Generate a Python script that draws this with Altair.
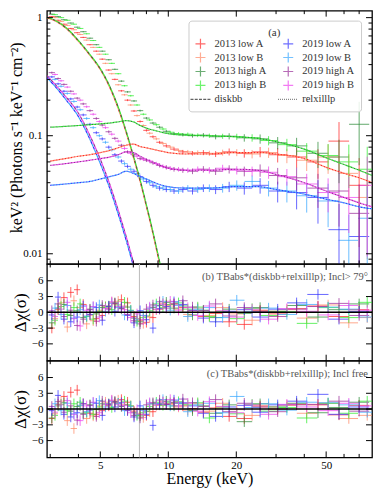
import altair as alt
import pandas as pd

FONT = "Liberation Serif"

# ---------------- data ----------------
DATASETS = ["2013 low A", "2013 low B", "2013 high A", "2013 high B",
            "2019 low A", "2019 low B", "2019 high A", "2019 high B"]
GROUPS = ["2013 low", "2013 high", "2019 low", "2019 high"]

# energy bin centres (keV) of the two detectors
E_A = [3.05, 3.25, 3.45, 3.7, 3.95, 4.2, 4.5, 4.8, 5.1, 5.45, 5.8, 6.2, 6.6, 7.05, 7.5, 8.0,
       8.55, 9.15, 9.8, 10.6, 11.6, 12.8, 14.3, 16.2, 18.6, 21.7, 25.5, 30.5, 37, 46, 57, 70]
E_B = [3.15, 3.35, 3.57, 3.82, 4.07, 4.35, 4.65, 4.95, 5.27, 5.62, 6.0, 6.4, 6.82, 7.27, 7.75, 8.27,
       8.85, 9.47, 10.2, 11.1, 12.2, 13.5, 15.2, 17.4, 20.1, 23.5, 27.8, 33.5, 41, 51, 63, 76]

# unfolded spectra, keV^2 (photons s^-1 keV^-1 cm^-2)
FLUX = {
    "2013 low A": [1.02, 0.95, 0.88, 0.81, 0.745, 0.68, 0.59, 0.52, 0.445, 0.36, 0.30, 0.24, 0.20, 0.162, 0.132, 0.111,
                   0.098, 0.088, 0.082, 0.077, 0.073, 0.071, 0.072, 0.070, 0.073, 0.071, 0.073, 0.069, 0.066, 0.060, 0.090, 0.038],
    "2013 low B": [1.00, 0.93, 0.86, 0.79, 0.72, 0.645, 0.56, 0.49, 0.41, 0.335, 0.27, 0.222, 0.182, 0.148, 0.122, 0.105,
                   0.094, 0.086, 0.080, 0.075, 0.073, 0.072, 0.071, 0.072, 0.072, 0.070, 0.072, 0.068, 0.062, 0.066, 0.048, 0.030],
    "2013 high A": [1.07, 1.02, 0.96, 0.90, 0.83, 0.76, 0.67, 0.59, 0.52, 0.44, 0.365, 0.29, 0.235, 0.197, 0.163, 0.141,
                    0.128, 0.118, 0.109, 0.104, 0.102, 0.100, 0.101, 0.098, 0.099, 0.096, 0.094, 0.087, 0.082, 0.071, 0.066, 0.125],
    "2013 high B": [1.06, 1.00, 0.95, 0.88, 0.81, 0.73, 0.64, 0.56, 0.49, 0.41, 0.335, 0.265, 0.218, 0.182, 0.152, 0.136,
                    0.124, 0.114, 0.107, 0.104, 0.103, 0.101, 0.100, 0.099, 0.098, 0.096, 0.091, 0.084, 0.074, 0.068, 0.060, 0.052],
    "2019 low A": [0.315, 0.275, 0.238, 0.205, 0.175, 0.150, 0.125, 0.106, 0.094, 0.080, 0.069, 0.061, 0.055, 0.050, 0.045, 0.041,
                   0.038, 0.036, 0.035, 0.034, 0.035, 0.034, 0.036, 0.035, 0.037, 0.036, 0.038, 0.034, 0.033, 0.030, 0.016, 0.014],
    "2019 low B": [0.30, 0.262, 0.228, 0.195, 0.166, 0.140, 0.117, 0.100, 0.088, 0.076, 0.066, 0.058, 0.052, 0.048, 0.043, 0.040,
                   0.037, 0.036, 0.035, 0.034, 0.036, 0.035, 0.036, 0.036, 0.038, 0.041, 0.036, 0.034, 0.031, 0.028, 0.013, 0.020],
    "2019 high A": [0.342, 0.305, 0.272, 0.238, 0.208, 0.186, 0.163, 0.140, 0.123, 0.108, 0.095, 0.083, 0.073, 0.069, 0.064, 0.062,
                    0.059, 0.056, 0.054, 0.052, 0.051, 0.050, 0.052, 0.050, 0.052, 0.050, 0.051, 0.046, 0.044, 0.036, 0.034, 0.022],
    "2019 high B": [0.33, 0.292, 0.258, 0.226, 0.200, 0.176, 0.152, 0.132, 0.117, 0.103, 0.090, 0.078, 0.071, 0.067, 0.063, 0.061,
                    0.058, 0.055, 0.053, 0.052, 0.051, 0.052, 0.051, 0.053, 0.051, 0.050, 0.049, 0.045, 0.039, 0.033, 0.030, 0.038],
}

# fractional 1-sigma flux errors per bin
REL_ERR = {
    "2013 high": [0.010, 0.010, 0.010, 0.010, 0.010, 0.011, 0.011, 0.012, 0.012, 0.013, 0.014, 0.015, 0.016, 0.017, 0.019, 0.021,
                  0.023, 0.025, 0.027, 0.030, 0.033, 0.037, 0.043, 0.050, 0.060, 0.072, 0.090, 0.12, 0.17, 0.25, 0.40, 0.55],
    "2013 low": [0.011, 0.011, 0.011, 0.011, 0.012, 0.012, 0.012, 0.013, 0.014, 0.015, 0.016, 0.017, 0.019, 0.020, 0.022, 0.024,
                 0.026, 0.028, 0.031, 0.034, 0.038, 0.043, 0.050, 0.058, 0.068, 0.082, 0.10, 0.14, 0.19, 0.28, 0.45, 0.70],
    "2019 high": [0.020, 0.020, 0.020, 0.021, 0.022, 0.023, 0.024, 0.025, 0.026, 0.027, 0.028, 0.029, 0.030, 0.031, 0.033, 0.035,
                  0.037, 0.039, 0.042, 0.045, 0.050, 0.055, 0.062, 0.070, 0.080, 0.095, 0.12, 0.16, 0.22, 0.32, 0.50, 0.75],
    "2019 low": [0.022, 0.022, 0.023, 0.024, 0.025, 0.026, 0.028, 0.029, 0.030, 0.032, 0.033, 0.035, 0.036, 0.038, 0.040, 0.042,
                 0.045, 0.048, 0.050, 0.055, 0.060, 0.066, 0.074, 0.085, 0.10, 0.12, 0.15, 0.20, 0.28, 0.40, 0.65, 0.85],
}

# model components
E_DISK = [2.9, 3.0, 3.5, 4.0, 4.5, 5.0, 5.5, 6.0, 6.5, 7.0, 7.5, 8.0, 8.5, 9.0, 9.5, 10.0]
DISKBB = {
    "2013 low": [0.995, 0.975, 0.822, 0.631, 0.479, 0.363, 0.257, 0.170, 0.107, 0.066, 0.041, 0.0251, 0.0155, 0.0095, 0.0059, 0.0036],
    "2013 high": [1.00, 0.985, 0.832, 0.640, 0.487, 0.370, 0.263, 0.175, 0.110, 0.068, 0.0425, 0.026, 0.0161, 0.0099, 0.0062, 0.0038],
    "2019 low": [0.31, 0.29, 0.205, 0.145, 0.093, 0.058, 0.036, 0.0217, 0.0131, 0.0079, 0.0048, 0.0029, 0.0018, 0.0011, 0.0007, 0.0004],
    "2019 high": [0.324, 0.302, 0.216, 0.155, 0.100, 0.063, 0.039, 0.0234, 0.0141, 0.0085, 0.0051, 0.0031, 0.0019, 0.0011, 0.0007, 0.0004],
}
E_REL = [3.0, 3.5, 4.0, 4.5, 5.0, 5.5, 6.0, 6.5, 7.0, 7.5, 8.0, 9.0, 10, 12, 15, 20, 25, 30, 40, 50, 60, 70, 80]
RELXILLLP = {
    "2013 low": [0.061, 0.064, 0.067, 0.069, 0.072, 0.075, 0.079, 0.083, 0.085, 0.081, 0.079, 0.075, 0.072, 0.070, 0.070, 0.072,
                 0.072, 0.070, 0.064, 0.054, 0.048, 0.044, 0.040],
    "2013 high": [0.118, 0.120, 0.122, 0.124, 0.126, 0.128, 0.131, 0.134, 0.131, 0.122, 0.116, 0.109, 0.104, 0.101, 0.100, 0.098,
                  0.095, 0.089, 0.077, 0.065, 0.057, 0.051, 0.046],
    "2019 low": [0.038, 0.039, 0.040, 0.041, 0.043, 0.045, 0.047, 0.050, 0.048, 0.045, 0.043, 0.039, 0.037, 0.036, 0.036, 0.037,
                 0.037, 0.035, 0.032, 0.029, 0.027, 0.025, 0.024],
    "2019 high": [0.056, 0.058, 0.060, 0.062, 0.064, 0.066, 0.069, 0.073, 0.072, 0.067, 0.063, 0.057, 0.053, 0.051, 0.051, 0.052,
                  0.051, 0.047, 0.040, 0.034, 0.030, 0.027, 0.025],
}

# residuals (sigma), panel (b): inclination > 79 deg
RESID_B = {
    "2013 low A": [-3.0, 0.5, 2.8, 3.8, 4.3, 1.5, -0.5, -1.2, -0.6, 0.8, 1.6, 2.4, 1.8, -0.8, -1.5, -1.9,
                   -1.0, 0.6, 1.4, 1.6, 0.9, 0.3, -0.8, -0.2, -1.8, -2.3, 0.4, -0.3, 0.7, 1.2, -0.8, 0.5],
    "2013 low B": [-1.2, 1.8, -2.8, 2.2, 0.9, -2.2, -1.6, 0.4, 1.1, 1.9, 2.1, 1.2, 0.3, -1.2, -2.1, -0.9,
                   0.5, 1.7, 1.2, 0.6, -0.4, 0.8, -0.6, 0.9, -0.3, -1.5, 0.2, 0.5, -1.1, 1.4, -2.0, -1.0],
    "2013 high A": [-2.0, 0.8, 1.5, -0.6, 0.3, -1.0, 0.6, -0.3, 0.9, 1.2, 1.8, 0.7, 1.0, -1.1, -1.8, -0.7,
                    0.9, 1.3, 1.9, 0.8, 1.2, -0.5, 0.4, -1.0, 0.6, -0.2, 0.9, 0.2, 1.3, -0.9, 0.5, 1.6],
    "2013 high B": [-1.5, 1.1, -0.4, 0.9, 1.6, -0.8, -1.3, 0.2, 1.0, 0.5, 1.4, 1.9, 0.4, -1.7, -1.0, 0.3,
                    1.6, 0.9, 1.5, 1.8, 0.6, 1.0, -0.8, 0.2, -1.2, 0.7, -0.6, 0.1, -2.1, 0.9, -1.0, 1.9],
    "2019 low A": [-0.5, 2.9, -1.3, -1.8, -0.9, 1.2, -0.4, 0.9, -1.5, 1.1, 0.2, 1.0, -0.6, -2.0, 0.3, -1.4,
                   -3.0, 0.7, 1.1, 2.0, 1.5, 0.4, -1.1, -1.8, 0.2, 0.5, -0.9, 0.6, 1.8, 3.4, -1.3, 0.2],
    "2019 low B": [0.8, -0.4, 1.3, -1.1, 0.5, -0.7, 1.0, 1.4, 0.2, 1.7, 0.9, -0.5, 0.3, -1.3, -0.6, 0.8,
                   1.2, 2.1, 0.4, 1.3, -0.8, 0.6, 0.9, -1.0, 2.3, 0.1, 0.8, -0.4, 1.5, 1.0, 0.6, -0.9],
    "2019 high A": [0.3, 1.6, -0.8, 0.4, -2.5, -1.3, 0.5, -1.7, 1.3, 0.6, 1.7, 0.8, -0.4, -1.6, -2.2, 0.6,
                    1.4, 2.0, 0.8, 1.6, 2.2, 1.0, 0.3, 1.6, -0.7, 0.9, 0.2, -0.8, 0.6, 1.1, 1.7, -0.6],
    "2019 high B": [-0.8, 0.6, 1.9, -1.2, -2.6, 0.4, 1.1, -0.9, 0.7, 2.0, 1.1, 0.5, -1.0, -0.3, -1.4, 1.0,
                    0.6, 1.5, 2.1, 0.4, 0.9, -0.6, 1.2, 0.3, -0.9, 0.6, -1.3, 0.7, 0.2, -0.5, 1.3, 0.4],
}
# residuals (sigma), panel (c): inclination free
RESID_C = {
    "2013 low A": [-1.8, 0.9, 2.4, 3.2, 3.6, 1.0, -0.8, -1.0, -0.3, 0.6, 1.2, 1.8, 1.3, -0.4, -1.0, -1.2,
                   -0.5, 0.8, 1.0, 1.1, 0.6, 0.1, -0.6, 0.2, -1.4, -1.8, 0.6, 0.0, 0.9, 0.8, -1.1, 0.7],
    "2013 low B": [-0.9, 1.5, -2.2, -3.7, 0.6, -1.8, -1.3, 0.6, 1.3, 1.6, 1.7, 0.9, 0.6, -0.8, -1.6, -0.5,
                   0.7, 1.4, 0.9, 0.4, -0.2, 1.0, -0.4, 1.1, -0.1, -1.2, 0.4, 0.7, -0.8, 1.1, -1.8, -1.2],
    "2013 high A": [-1.7, 0.6, 1.2, -0.4, 0.5, -0.8, 0.8, -0.1, 1.0, 1.0, 1.4, 0.5, 0.8, -0.7, -1.3, -0.4,
                    1.0, 1.1, 1.5, 0.6, 1.0, -0.3, 0.6, -0.8, 0.8, -2.4, 1.0, 0.4, 1.1, -0.7, 0.3, 1.3],
    "2013 high B": [-1.2, 0.9, -0.2, 1.0, 1.3, -0.6, -1.0, 0.4, 0.8, 0.3, 1.1, 1.5, 0.6, -1.2, -0.7, 0.5,
                    1.3, 0.7, 1.2, 1.4, 0.8, 1.2, -1.7, 0.4, -0.9, 0.9, -0.4, 0.3, -1.7, 1.1, -0.8, 1.5],
    "2019 low A": [-0.3, 2.6, -1.0, -1.5, -0.7, 1.0, -0.2, 1.1, -1.2, 0.9, 0.4, 1.2, -0.3, -1.5, 0.6, -1.0,
                   -3.1, 0.9, 0.9, 1.7, 1.2, 0.6, -0.8, -1.4, 0.4, 0.7, -0.6, 0.8, 1.5, 2.8, -1.0, 0.4],
    "2019 low B": [1.0, -0.2, 1.1, -0.9, 0.7, -0.5, 1.2, 1.6, 0.4, 1.4, 1.1, -0.3, 0.5, -1.0, -0.3, 1.0,
                   1.0, 1.8, 0.6, 1.1, -0.5, 0.8, 1.1, -0.7, 2.4, 0.3, 1.0, -0.2, 1.3, 1.2, 0.8, -0.6],
    "2019 high A": [0.5, 1.4, -0.6, 0.6, -2.1, -1.0, 0.7, -1.4, 1.5, 0.8, 1.4, 0.6, -0.2, -1.2, -1.7, 0.8,
                    1.2, 1.7, 0.9, 1.3, 1.9, 1.2, 0.5, 1.8, -0.5, 1.1, 0.4, -0.5, 0.8, 0.9, 1.5, -0.4],
    "2019 high B": [-0.6, 0.8, 1.6, -1.0, -2.2, 0.6, 1.3, -0.7, 0.9, 1.7, 0.9, 0.7, -0.7, -0.1, -1.0, 1.2,
                    0.8, 1.3, 1.8, 0.6, 1.1, -0.4, 1.4, 0.5, -0.7, 0.8, -1.0, 0.9, 0.4, -0.3, 1.1, 0.6],
}
RESID_ERR = 1.0
LINE_E = [7.45]
ZERO = [0]

X_DOMAIN = [2.9, 79.8]
Y_DOMAIN_TOP = [0.0082, 1.146]
Y_DOMAIN_RES = [-9.2, 9.2]
X_LABELS = [5, 10, 20, 50]
X_MINOR = [3, 4, 6, 7, 8, 9, 30, 40, 60, 70]
Y_LABELS_TOP = [0.01, 0.1, 1]
Y_MINOR_TOP = [0.009, 0.02, 0.03, 0.04, 0.05, 0.06, 0.07, 0.08, 0.09, 0.2, 0.3, 0.4, 0.5, 0.6, 0.7, 0.8, 0.9]
Y_LABELS_RES = [-6, -3, 0, 3, 6]

# ---------------- styles ----------------
COLOR = {
    "2013 low A": "#ff2a2a", "2013 low B": "#ff8a68",
    "2013 high A": "#2e8b3a", "2013 high B": "#30ee30",
    "2019 low A": "#3434ff", "2019 low B": "#38a8ff",
    "2019 high A": "#9a2e9a", "2019 high B": "#ee44ee",
    "diskbb": "#222222", "relxilllp": "#222222",
}
CROSS = "M-1,0H1M0,-1V1"
DASHED = "M-2,0H-1.4M-1.15,0H-0.55M-0.3,0H0.3M0.55,0H1.15M1.4,0H2"
DOTTED = ("M-2,0H-1.85M-1.6,0H-1.45M-1.2,0H-1.05M-0.8,0H-0.65M-0.4,0H-0.25M0,0H0.15"
          "M0.4,0H0.55M0.8,0H0.95M1.2,0H1.35M1.6,0H1.75")
# legend entries fill the first column, then the second
LEGEND_ORDER = ["2013 low A", "2013 low B", "2013 high A", "2013 high B", "diskbb",
                "2019 low A", "2019 low B", "2019 high A", "2019 high B", "relxilllp"]
SHAPE = {n: CROSS for n in DATASETS}
SHAPE["diskbb"] = DASHED
SHAPE["relxilllp"] = DOTTED

W = 326
H_TOP, H_RES = 254, 97

XS = alt.Scale(type="log", domain=X_DOMAIN, nice=False)
YS_TOP = alt.Scale(type="log", domain=Y_DOMAIN_TOP, nice=False)
YS_RES = alt.Scale(domain=Y_DOMAIN_RES, nice=False, zero=False)

AXIS_TOP_Y = alt.Axis(
    values=Y_LABELS_TOP, format="~g", title="keV² (Photons s⁻¹ keV⁻¹ cm⁻²)",
    ticks=False, domain=False, grid=False, labelFont=FONT, labelFontSize=11, labelPadding=5,
    labelColor="black", titleFont=FONT, titleFontSize=16, titleFontWeight="normal",
    titleColor="black", titleX=-22, titleY=H_TOP / 2, titleAngle=270, titleAlign="center",
    titleBaseline="bottom")
AXIS_RES_Y = alt.Axis(
    values=Y_LABELS_RES, format="d", title="Δχ(σ)", ticks=False, domain=False, grid=False,
    labelFont=FONT, labelFontSize=11, labelPadding=4, labelColor="black",
    titleFont=FONT, titleFontSize=17, titleFontWeight="normal", titleColor="black",
    titleX=-17, titleY=H_RES / 2, titleAngle=270, titleAlign="center", titleBaseline="bottom")
AXIS_X = alt.Axis(
    values=X_LABELS, format="d", ticks=False, domain=False, grid=False,
    labelFont=FONT, labelFontSize=11, labelPadding=2, labelColor="black",
    title="Energy (keV)", titleFont=FONT, titleFontSize=16,
    titleFontWeight="normal", titleColor="black", titlePadding=0)


def bin_edges(E):
    mids = [(E[i] * E[i + 1]) ** 0.5 for i in range(len(E) - 1)]
    lo = [E[0] ** 2 / mids[0]] + mids
    hi = mids + [E[-1] ** 2 / mids[-1]]
    return lo, hi


def grid_of(name):
    return E_A if name.endswith("A") else E_B


def group_of(name):
    return name.rsplit(" ", 1)[0]


spec_rows = []
for n in DATASETS:
    E = grid_of(n)
    lo, hi = bin_edges(E)
    err = REL_ERR[group_of(n)]
    for i, f in enumerate(FLUX[n]):
        spec_rows.append(dict(name=n, col=COLOR[n], E=E[i], lo=lo[i], hi=hi[i],
                              F=f, Flo=f * (1 - err[i]), Fhi=f * (1 + err[i])))
spec_df = pd.DataFrame(spec_rows)


def resid_df(table):
    rows = []
    for n in DATASETS:
        E = grid_of(n)
        lo, hi = bin_edges(E)
        for i, r in enumerate(table[n]):
            rows.append(dict(name=n, col=COLOR[n], E=E[i], lo=lo[i], hi=hi[i],
                             R=r, Rlo=r - RESID_ERR, Rhi=r + RESID_ERR))
    return pd.DataFrame(rows)


def model_df(egrid, table, det):
    rows = []
    for g in GROUPS:
        n = f"{g} {det}"
        for e, v in zip(egrid, table[g]):
            rows.append(dict(name=n, col=COLOR[n], E=e, F=v))
    return pd.DataFrame(rows)


def tick_layers(yscale, yaxis, xaxis, ymajor, yminor, H):
    layers = []
    for vals, L in [(X_LABELS, 6), (X_MINOR, 3.5)]:
        d = pd.DataFrame({"v": vals})
        base = alt.Chart(d).mark_rule(color="black", strokeWidth=1)
        layers.append(base.encode(x=alt.X("v:Q", scale=XS, axis=xaxis), y=alt.value(0), y2=alt.value(L)))
        layers.append(base.encode(x=alt.X("v:Q", scale=XS, axis=xaxis), y=alt.value(H), y2=alt.value(H - L)))
    for vals, L in [(ymajor, 6), (yminor, 3.5)]:
        if not vals:
            continue
        d = pd.DataFrame({"v": vals})
        base = alt.Chart(d).mark_rule(color="black", strokeWidth=1)
        layers.append(base.encode(y=alt.Y("v:Q", scale=yscale, axis=yaxis), x=alt.value(0), x2=alt.value(L)))
        layers.append(base.encode(y=alt.Y("v:Q", scale=yscale, axis=yaxis), x=alt.value(W), x2=alt.value(W - L)))
    return layers


def crosses(df, yf, ylo, yhi, yscale, yaxis, xaxis):
    h = alt.Chart(df).mark_rule(strokeWidth=1, opacity=0.75, clip=True).encode(
        x=alt.X("lo:Q", scale=XS, axis=xaxis), x2="hi:Q",
        y=alt.Y(f"{yf}:Q", scale=yscale, axis=yaxis),
        stroke=alt.Stroke("col:N", scale=None))
    v = alt.Chart(df).mark_rule(strokeWidth=1, opacity=0.75, clip=True).encode(
        x=alt.X("E:Q", scale=XS, axis=xaxis),
        y=alt.Y(f"{ylo}:Q", scale=yscale, axis=yaxis), y2=f"{yhi}:Q",
        stroke=alt.Stroke("col:N", scale=None))
    return [h, v]


# ---------------- top panel ----------------
leg = alt.Legend(
    orient="none", legendX=142, legendY=10, columns=2, title="(a)", titleAnchor="middle",
    titleFont=FONT, titleFontSize=11, titleFontWeight="normal", titleColor="#333", titlePadding=0,
    labelFont=FONT, labelFontSize=10.5, labelColor="#333", labelOffset=8,
    symbolSize=100, symbolStrokeWidth=1.2, rowPadding=-3, columnPadding=8, padding=6,
    strokeColor="#cccccc", fillColor="rgba(255,255,255,0.85)", cornerRadius=3,
)
legend_df = pd.DataFrame({"name": LEGEND_ORDER, "E": [1.0] * len(LEGEND_ORDER), "F": [0.5] * len(LEGEND_ORDER)})
legend_layer = alt.Chart(legend_df).mark_point(filled=False, clip=True).encode(
    x=alt.X("E:Q", scale=XS, axis=None),
    y=alt.Y("F:Q", scale=YS_TOP, axis=AXIS_TOP_Y),
    color=alt.Color("name:N", scale=alt.Scale(domain=LEGEND_ORDER, range=[COLOR[n] for n in LEGEND_ORDER]), legend=leg),
    shape=alt.Shape("name:N", scale=alt.Scale(domain=LEGEND_ORDER, range=[SHAPE[n] for n in LEGEND_ORDER]), legend=leg),
)


def model_layer(df, dash, offset):
    return alt.Chart(df).mark_line(strokeDash=dash, strokeDashOffset=offset, strokeWidth=1.2,
                                   clip=True, interpolate="monotone").encode(
        x=alt.X("E:Q", scale=XS, axis=None),
        y=alt.Y("F:Q", scale=YS_TOP, axis=AXIS_TOP_Y),
        stroke=alt.Stroke("col:N", scale=None),
        detail="name:N")


top_layers = [legend_layer] + crosses(spec_df, "F", "Flo", "Fhi", YS_TOP, AXIS_TOP_Y, None) + [
    model_layer(model_df(E_DISK, DISKBB, "A"), [3, 3], 0),
    model_layer(model_df(E_DISK, DISKBB, "B"), [3, 3], 3),
    model_layer(model_df(E_REL, RELXILLLP, "A"), [1.5, 1.5], 0),
    model_layer(model_df(E_REL, RELXILLLP, "B"), [1.5, 1.5], 1.5),
] + tick_layers(YS_TOP, AXIS_TOP_Y, None, Y_LABELS_TOP, Y_MINOR_TOP, H_TOP)
top = alt.layer(*top_layers).properties(width=W, height=H_TOP)


# ---------------- residual panels ----------------
def residual_panel(table, label, show_x):
    df = resid_df(table)
    xaxis = AXIS_X if show_x else None
    zero_layer = alt.Chart(pd.DataFrame({"v": ZERO})).mark_rule(color="black", strokeWidth=1.5).encode(
        y=alt.Y("v:Q", scale=YS_RES, axis=AXIS_RES_Y))
    vline_layer = alt.Chart(pd.DataFrame({"E": LINE_E})).mark_rule(color="#bbbbbb", strokeWidth=1).encode(
        x=alt.X("E:Q", scale=XS, axis=xaxis))
    txt = alt.Chart(pd.DataFrame({"t": [label]})).mark_text(
        align="right", baseline="middle", font=FONT, fontSize=10.5, color="#555555").encode(
        x=alt.value(W - 4), y=alt.value(13), text="t:N")
    layers = [vline_layer] + crosses(df, "R", "Rlo", "Rhi", YS_RES, AXIS_RES_Y, xaxis) + [zero_layer, txt] + \
        tick_layers(YS_RES, AXIS_RES_Y, xaxis, Y_LABELS_RES, [], H_RES)
    return alt.layer(*layers).properties(width=W, height=H_RES)


mid = residual_panel(RESID_B, "(b) TBabs*(diskbb+relxilllp); Incl> 79°", False)
bot = residual_panel(RESID_C, "(c) TBabs*(diskbb+relxilllp); Incl free", True)

chart = alt.vconcat(top, mid, bot, spacing=0, bounds="flush").resolve_scale(
    color="independent", shape="independent"
).properties(padding=0, background="white").configure_view(
    stroke="black", strokeWidth=1.3
).configure_axis(grid=False, labelFont=FONT, titleFont=FONT).configure_legend(
    labelFont=FONT, titleFont=FONT
).configure_text(font=FONT)

chart.save("out.html", embed_options={"renderer": "svg", "actions": False})
